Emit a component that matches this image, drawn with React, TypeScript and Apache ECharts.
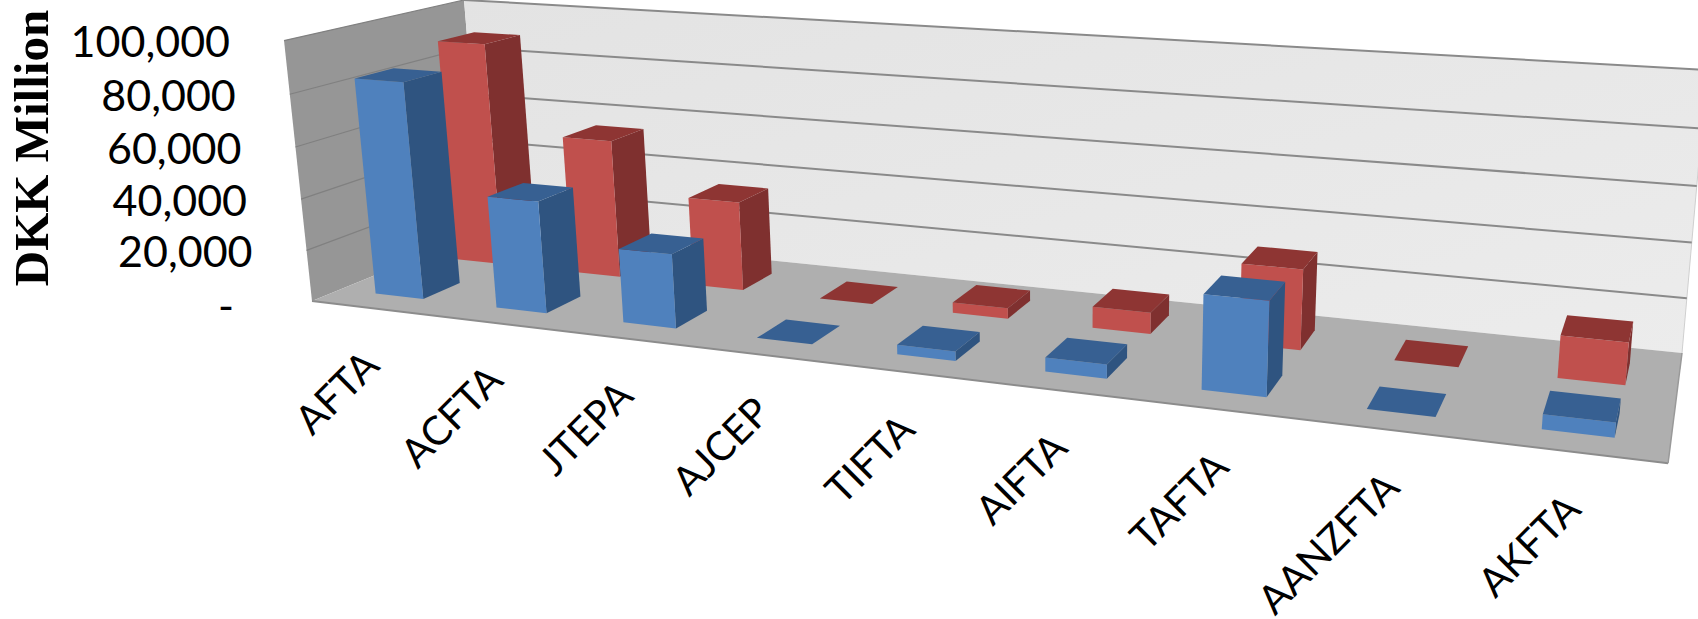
import { useEffect, useRef } from "react";
import * as echarts from "echarts";

const categories = ["AFTA", "ACFTA", "JTEPA", "AJCEP", "TIFTA", "AIFTA", "TAFTA", "AANZFTA", "AKFTA"];
const frontSeries = [84000, 43000, 28000, 0, 3500, 5000, 33000, 0, 5000];
const backSeries = [90000, 55000, 35000, 0, 4000, 8000, 29500, 0, 15000];
const tickValues = [0, 20000, 40000, 60000, 80000, 100000];
const tickLabels = ["-", "20,000", "40,000", "60,000", "80,000", "100,000"];

const CANVAS_W = 1698;
const CANVAS_H = 619;
const VALUE_MAX = 100000;

// Screen anchors of the 3D box: back wall quad, then the two front floor corners.
const BACK_BL = [483, 231];
const BACK_BR = [1682, 353];
const BACK_TR = [1707, 70];
const BACK_TL = [464, 0];
const FRONT_L = [312, 301];
const FRONT_R = [1668, 463];

type V3 = [number, number, number];

// Projective camera built from the anchors: u along categories, d into depth, v up.
function buildCamera() {
  const [x0, y0] = BACK_BL;
  const [x1, y1] = BACK_BR;
  const [x2, y2] = BACK_TR;
  const [x3, y3] = BACK_TL;
  const dx1 = x1 - x2, dx2 = x3 - x2, sx = x0 - x1 + x2 - x3;
  const dy1 = y1 - y2, dy2 = y3 - y2, sy = y0 - y1 + y2 - y3;
  const den = dx1 * dy2 - dx2 * dy1;
  const g = (sx * dy2 - dx2 * sy) / den;
  const h = (dx1 * sy - sx * dy1) / den;
  const pu: V3 = [x1 - x0 + g * x1, y1 - y0 + g * y1, g];
  const pv: V3 = [x3 - x0 + h * x3, y3 - y0 + h * y3, h];
  const pb: V3 = [x0, y0, 1];
  // p1 = a*F, p1 + pu = b*R, solved by least squares in normalised pixels.
  const k = 1000;
  const F: V3 = [FRONT_L[0] / k, FRONT_L[1] / k, 1];
  const R: V3 = [FRONT_R[0] / k, FRONT_R[1] / k, 1];
  const U: V3 = [pu[0] / k, pu[1] / k, pu[2]];
  const dot = (a: V3, b: V3) => a[0] * b[0] + a[1] * b[1] + a[2] * b[2];
  const ff = dot(F, F), rr = dot(R, R), fr = dot(F, R), uf = dot(U, F), ur = dot(U, R);
  const det = -ff * rr + fr * fr;
  const a = (uf * rr - ur * fr) / det;
  const p1: V3 = [a * FRONT_L[0], a * FRONT_L[1], a];
  return (u: number, d: number, v: number): number[] => {
    const w = (i: number) => pu[i] * u + pv[i] * v + pb[i] * d + p1[i] * (1 - d);
    return [w(0) / w(2), w(1) / w(2)];
  };
}
const project = buildCamera();

// Converts chart data coordinates to camera parameters through the cartesian scales.
function toWorld(api: any, cat: number, value: number) {
  const [px, py] = api.coord([cat, value]);
  return { u: px / CANVAS_W, v: (CANVAS_H - py) / CANVAS_H };
}

const poly = (points: number[][], fill: any, stroke?: string, lineWidth = 0) => ({
  type: "polygon",
  shape: { points },
  style: { fill, stroke: stroke ?? null, lineWidth },
});

const line = (a: number[], b: number[], stroke: string, lineWidth: number) => ({
  type: "line",
  shape: { x1: a[0], y1: a[1], x2: b[0], y2: b[1] },
  style: { stroke, lineWidth },
});

function renderBox(api: any) {
  const a = toWorld(api, 0, 0);
  const b = toWorld(api, categories.length, VALUE_MAX);
  const corner = (u: number, d: number, v: number) => project(u, d, v);
  const { u: u0, v: v0 } = a;
  const { u: u1, v: v1 } = b;
  return {
    type: "group",
    children: [
      poly(
        [corner(u0, 0, v0), corner(u0, 1, v0), corner(u0, 1, v1), corner(u0, 0, v1)],
        "#969696",
      ),
      poly(
        [corner(u0, 1, v0), corner(u1, 1, v0), corner(u1, 1, v1), corner(u0, 1, v1)],
        new echarts.graphic.LinearGradient(0, 0, 1, 1, [
          { offset: 0, color: "#e3e3e3" },
          { offset: 1, color: "#ececec" },
        ]),
      ),
      poly(
        [corner(u0, 0, v0), corner(u1, 0, v0), corner(u1, 1, v0), corner(u0, 1, v0)],
        "#afafaf",
      ),
      line(corner(u0, 0, v0), corner(u1, 0, v0), "#8c8c8c", 2),
      line(corner(u1, 0, v0), corner(u1, 1, v0), "#999999", 1.5),
      line(corner(u1, 1, v0), corner(u1, 1, v1), "#cfcfcf", 1),
    ],
  };
}

function renderTick(_p: any, api: any) {
  const value = api.value(0);
  const idx = tickValues.indexOf(value);
  const a = toWorld(api, 0, value);
  const b = toWorld(api, categories.length, value);
  const front = project(a.u, 0, a.v);
  const back = project(a.u, 1, a.v);
  const right = project(b.u, 1, b.v);
  const children: any[] = [];
  if (value > 0) {
    children.push(line(front, back, "#808080", 1.2));
    children.push(line(back, right, "#8a8a8a", 2));
  }
  const isDash = value === 0;
  children.push({
    type: "text",
    x: front[0] - (isDash ? 78 : 54),
    y: front[1] + (isDash ? 3 : 0),
    style: {
      text: tickLabels[idx],
      font: '43px Lato, "Open Sans", sans-serif',
      fill: "#000000",
      align: "right",
      verticalAlign: "middle",
    },
  });
  return { type: "group", children };
}

// One 3D column: depth range is fixed by the series, height comes from the data value.
const BAR_WIDTH = 0.4;
function makeBarRenderer(d0: number, d1: number, colors: { front: string; side: string; top: string }) {
  return (_p: any, api: any) => {
    const cat = api.value(0);
    const val = api.value(1);
    const l = toWorld(api, cat + 0.5 - BAR_WIDTH / 2, 0);
    const r = toWorld(api, cat + 0.5 + BAR_WIDTH / 2, val);
    const P = (u: number, d: number, v: number) => project(u, d, v);
    return {
      type: "group",
      children: [
        poly([P(r.u, d0, l.v), P(r.u, d1, l.v), P(r.u, d1, r.v), P(r.u, d0, r.v)], colors.side),
        poly([P(l.u, d0, l.v), P(r.u, d0, l.v), P(r.u, d0, r.v), P(l.u, d0, r.v)], colors.front),
        poly([P(l.u, d0, r.v), P(r.u, d0, r.v), P(r.u, d1, r.v), P(l.u, d1, r.v)], colors.top),
      ],
    };
  };
}

function renderCategoryLabel(_p: any, api: any) {
  const cat = api.value(0);
  const w = toWorld(api, cat + 0.5, 0);
  const p = project(w.u, 0, w.v);
  return {
    type: "text",
    x: p[0] - 1,
    y: p[1] + 49,
    rotation: (45 * Math.PI) / 180,
    style: {
      text: categories[cat],
      font: '40px Lato, "Open Sans", sans-serif',
      fill: "#000000",
      align: "right",
      verticalAlign: "middle",
    },
  };
}

export default function App() {
  const ref = useRef<HTMLDivElement>(null);
  useEffect(() => {
    const chart = echarts.init(ref.current!, undefined, { renderer: "svg" });
    const indexed = (arr: number[]) => arr.map((v, i) => [i, v]);
    chart.setOption({
      animation: false,
      backgroundColor: "#ffffff",
      grid: { left: 0, top: 0, width: CANVAS_W, height: CANVAS_H },
      xAxis: { type: "value", min: 0, max: categories.length, show: false },
      yAxis: { type: "value", min: 0, max: VALUE_MAX, show: false },
      graphic: {
        elements: [
          {
            type: "text",
            x: 31,
            y: 148,
            rotation: Math.PI / 2,
            style: {
              text: "DKK Million",
              font: 'bold 49px "Liberation Serif", serif',
              fill: "#000000",
              textAlign: "center",
              textVerticalAlign: "middle",
            },
          },
        ],
      },
      series: [
        { type: "custom", silent: true, clip: false, data: [[0]], renderItem: (_p: any, api: any) => renderBox(api) },
        { type: "custom", silent: true, clip: false, data: tickValues.map((v) => [v]), encode: { x: 0, y: 0 }, renderItem: renderTick },
        {
          type: "custom",
          silent: true,
          clip: false,
          data: indexed(backSeries),
          renderItem: makeBarRenderer(0.62, 0.84, { front: "#c0504d", side: "#7f302f", top: "#8e3533" }),
        },
        {
          type: "custom",
          silent: true,
          clip: false,
          data: indexed(frontSeries),
          renderItem: makeBarRenderer(0.15, 0.36, { front: "#4f81bd", side: "#2f5480", top: "#376092" }),
        },
        { type: "custom", silent: true, clip: false, data: categories.map((_, i) => [i]), renderItem: renderCategoryLabel },
      ],
    });
    return () => chart.dispose();
  }, []);
  return (
    <div
      ref={ref}
      style={{ position: "fixed", left: 0, top: 0, width: CANVAS_W, height: CANVAS_H }}
    />
  );
}
